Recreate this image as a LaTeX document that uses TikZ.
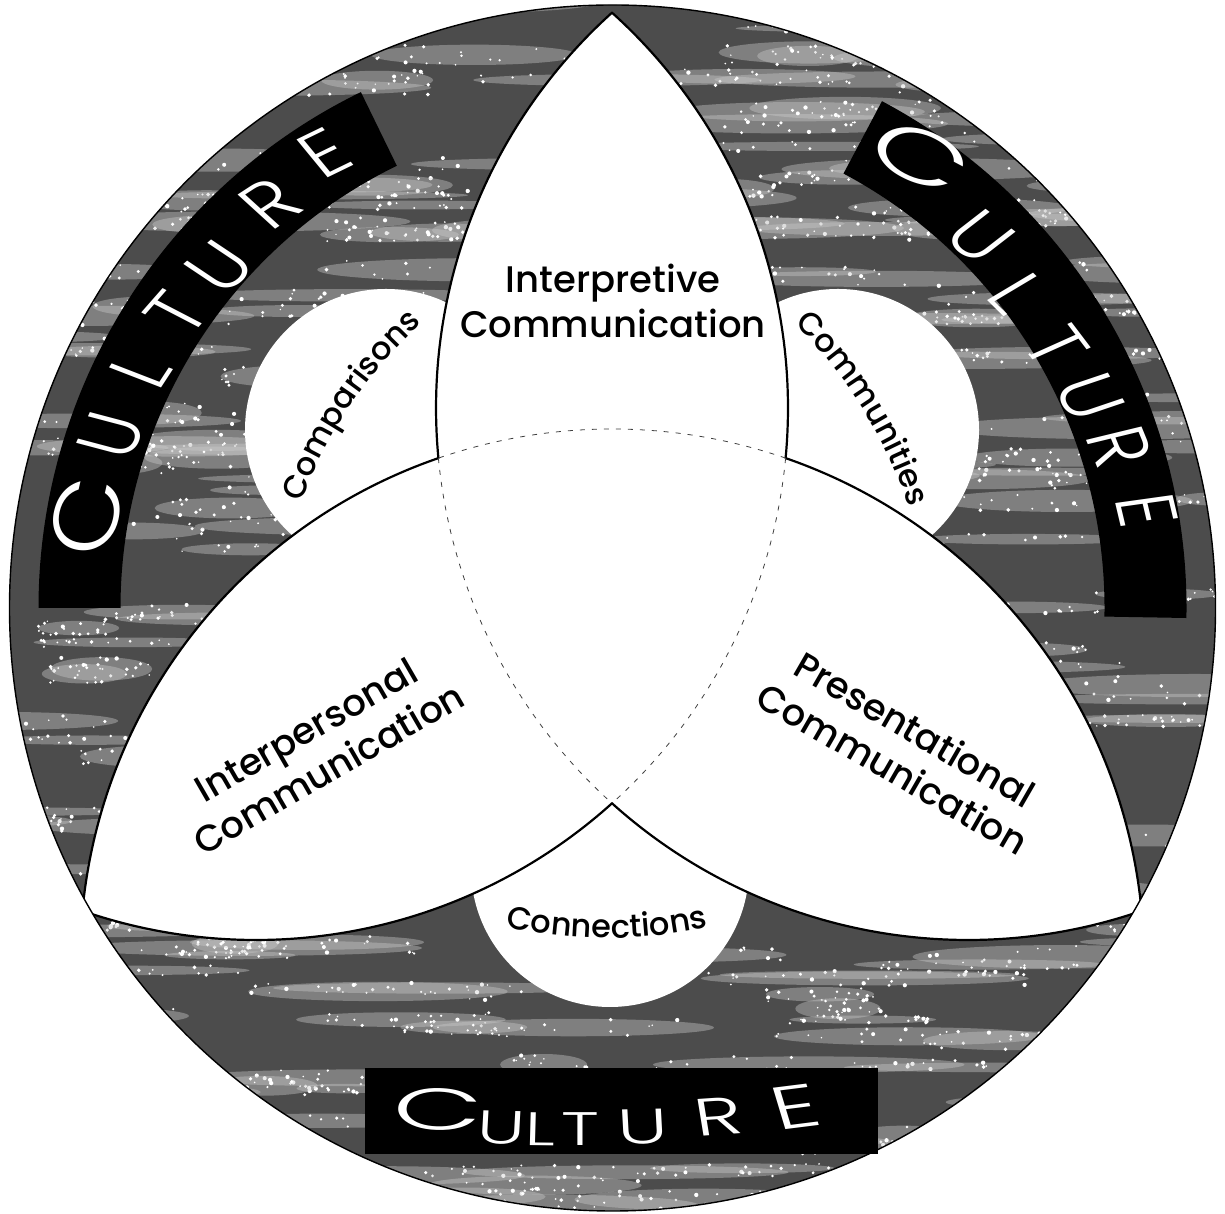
\documentclass[tikz,border=0pt]{standalone}
\usepackage{fontspec}
\setmainfont{Poppins}
\newfontfamily\labelfont{Poppins Medium}
\newfontfamily\culturefont{Poppins Light}
\newcommand\smalllabelfont{\labelfont\fontsize{32}{38}\selectfont}
\usetikzlibrary{decorations.text}
\begin{document}
\begin{tikzpicture}[x=1pt,y=1pt,
  petalline/.style={line width=2.2pt, black, line cap=round},
  overlapline/.style={line width=0.8pt, black!75, dash pattern=on 5pt off 7pt},
  bigtext/.style={font=\labelfont\fontsize{37}{44}\selectfont, inner sep=0pt},
  cultureletter/.style={text=white, font=\culturefont\fontsize{64}{64}\selectfont, inner sep=0pt, xscale=1.3},
  bottomletter/.style={text=white, font=\culturefont\fontsize{47}{47}\selectfont, inner sep=0pt, xscale=1.55},
  arclabel/.style={decorate, decoration={text along path, text align=center, text={|\smalllabelfont|#1}}},
]
\useasboundingbox (0,0) rectangle (1225,1214);

% centre of the culture disc and of the three circles forming the petals
\coordinate (O) at (612.5,606);
\coordinate (c1) at (968,806);
\coordinate (c2) at (256,806);
\coordinate (c3) at (612,253);
% centres of the three small circles
\coordinate (cmp) at (386,784);
\coordinate (cmt) at (838,784);
\coordinate (cnx) at (610,346);

% ---- textured culture disc ----
\fill[black!70] (O) circle[radius=603];
\begin{scope}
  \clip (O) circle[radius=603];
  \pgfmathsetseed{4}
  \foreach \k in {1,...,260}{
    \pgfmathsetmacro\sx{1225*rnd}
    \pgfmathsetmacro\sy{1214*rnd}
    \pgfmathsetmacro\rx{40+140*rnd}
    \pgfmathsetmacro\ry{4+8*rnd}
    \fill[black!20, opacity=0.4] (\sx,\sy) ellipse[x radius=\rx, y radius=\ry];
    \foreach \j in {1,...,18}{
      \fill[white] ({\sx+\rx*rand},{\sy+\ry*rand}) circle[radius={0.8+1.4*rnd}];
    }
  }
\end{scope}

% ---- black bands carrying the word CULTURE ----
\fill[black] (O) ++(116:492) arc[start angle=116, end angle=180, radius=492]
  -- ++(180:82) arc[start angle=180, end angle=116, radius=574] -- cycle;
\fill[black] (O) ++(-1:492) arc[start angle=-1, end angle=62, radius=492]
  -- ++(62:82) arc[start angle=62, end angle=-1, radius=574] -- cycle;
\fill[black] (365,60) rectangle (878,146);

% upper left CULTURE
\node[cultureletter, rotate=80.2, xscale=1.6, yscale=1.1] (ulC) at (86.7,697.3) {C};
\foreach \ch/\px/\py/\rot [count=\n] in {U/111.7/779/71.0, L/140/844/63.3, T/176.7/900.7/56.0,
    U/220/947.3/49.0, R/270/1011/40.2, E/325/1061/32.3}
  \node[cultureletter, rotate=\rot] (ul\n) at (\px,\py) {\ch};

% upper right CULTURE
\node[cultureletter, rotate=-34.4, xscale=1.6, yscale=1.1] (urC) at (920,1057.3) {C};
\foreach \ch/\px/\py/\rot [count=\n] in {U/980/977.3/-44.8, L/1016.7/920.7/-52.2, T/1056.7/867.3/-59.7,
    U/1090/817.3/-66.3, R/1120/767.3/-72.5, E/1146.7/704/-79.7}
  \node[cultureletter, rotate=\rot] (ur\n) at (\px,\py) {\ch};

% bottom CULTURE
\node[bottomletter, rotate=-3, xscale=1.6, yscale=1.25] (btC) at (438,105) {C};
\foreach \ch/\px/\py/\rot/\sc [count=\n] in {U/501/86/-2/1, L/540/85/-1/1, T/580/85/0/1,
    U/643/87/2/1.05, R/718/97/6/1.12, E/795/107/11/1.28}
  \node[bottomletter, rotate=\rot, scale=\sc] (bt\n) at (\px,\py) {\ch};

% ---- the three small circles ----
\fill[white] (cmp) circle[radius=141];
\fill[white] (cmt) circle[radius=141];
\fill[white] (cnx) circle[radius=139];

% ---- the three petals (pairwise overlaps of the big circles) ----
\begin{scope}
  \clip (O) circle[radius=603];
  \begin{scope}
    \clip (c1) circle[radius=532];
    \fill[white] (c2) circle[radius=532];
    \fill[white] (c3) circle[radius=532];
  \end{scope}
  \begin{scope}
    \clip (c2) circle[radius=532];
    \fill[white] (c3) circle[radius=532];
  \end{scope}
  % petal outlines
  \draw[petalline] (c1) ++(132.01:532) arc[start angle=132.01, end angle=185.40, radius=532];
  \draw[petalline] (c1) ++(227.99:532) arc[start angle=227.99, end angle=289.04, radius=532];
  \draw[petalline] (c2) ++(47.99:532) arc[start angle=47.99, end angle=-5.40, radius=532];
  \draw[petalline] (c2) ++(-47.99:532) arc[start angle=-47.99, end angle=-109.04, radius=532];
  \draw[petalline] (c3) ++(109.04:532) arc[start angle=109.04, end angle=174.60, radius=532];
  \draw[petalline] (c3) ++(5.40:532) arc[start angle=5.40, end angle=70.96, radius=532];
  % central overlap
  \draw[overlapline] (c1) ++(185.40:532) arc[start angle=185.40, end angle=227.99, radius=532];
  \draw[overlapline] (c2) ++(-5.40:532) arc[start angle=-5.40, end angle=-47.99, radius=532];
  \draw[overlapline] (c3) ++(70.96:532) arc[start angle=70.96, end angle=109.04, radius=532];
\end{scope}

% rim of the disc
\draw[line width=1.4pt] (O) circle[radius=603];

% ---- labels ----
\begin{scope}[shift={(613,898.5)}]
  \node[bigtext, anchor=base] (interp1) at (0,22.5) {Interpretive};
  \node[bigtext, anchor=base] (interp2) at (0,-22.5) {Communication};
\end{scope}
\begin{scope}[shift={(324,453)}, rotate=30, transform shape]
  \node[bigtext, anchor=base] (inper1) at (0,22.5) {Interpersonal};
  \node[bigtext, anchor=base] (inper2) at (0,-22.5) {Communication};
\end{scope}
\begin{scope}[shift={(897,453)}, rotate=-30, transform shape]
  \node[bigtext, anchor=base] (pres1) at (0,22.5) {Presentational};
  \node[bigtext, anchor=base] (pres2) at (0,-22.5) {Communication};
\end{scope}

% labels of the small circles, set along gentle arcs
\path[arclabel=Comparisons] ([shift={(724,557)}]162.5:450)
  arc[start angle=162.5, end angle=129.5, radius=450];
\path[arclabel=Communities] ([shift={(481,567)}]48.5:450)
  arc[start angle=48.5, end angle=15.5, radius=450];
\path[arclabel=Connections] ([shift={(607,746)}]256:470)
  arc[start angle=256, end angle=284, radius=470];

\end{tikzpicture}
\end{document}
